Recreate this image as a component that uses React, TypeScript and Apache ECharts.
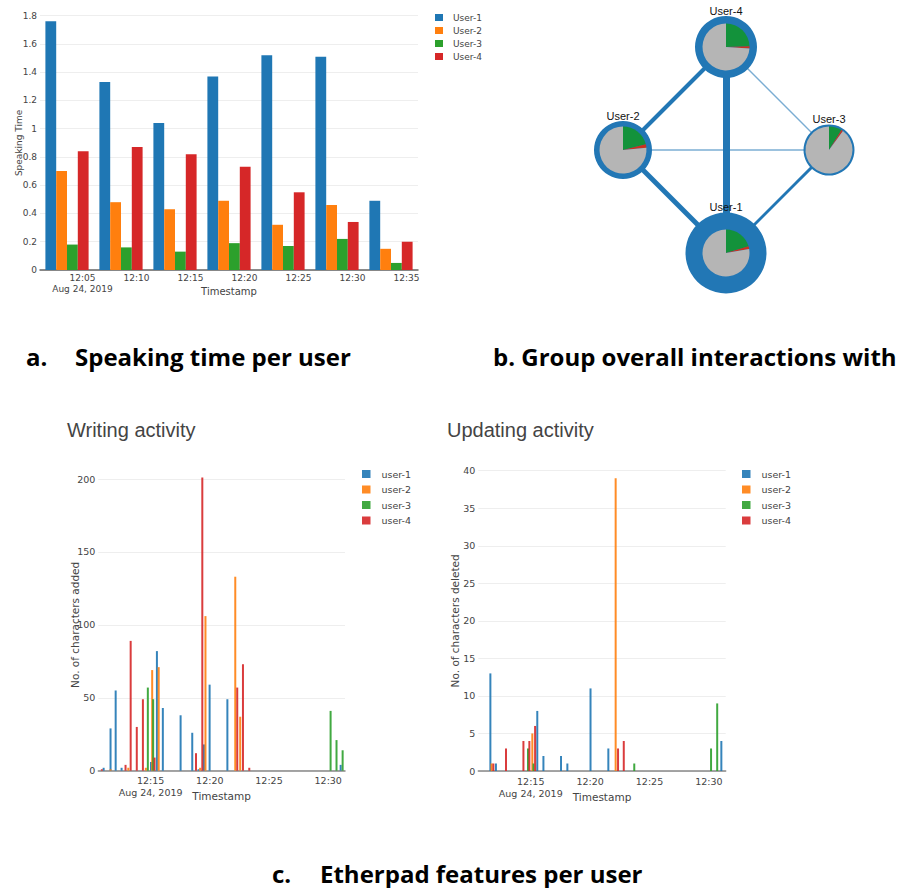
import React, { useEffect, useRef } from "react";
import * as echarts from "echarts";

const COLORS = ["#1f77b4", "#ff7f0e", "#2ca02c", "#d62728"];
const FONT = "DejaVu Sans";
const sessionDate = "Aug 24, 2019";

// ---------- a. Speaking time per user ----------
const speakingWindows = ["12:03:34", "12:08:34", "12:13:34", "12:18:34", "12:23:34", "12:28:34", "12:33:34"];
const speakingTicks = ["12:05", "12:10", "12:15", "12:20", "12:25", "12:30", "12:35"];
const speakingRange = ["12:01:04", "12:36:04"];
const speakingUsers = ["User-1", "User-2", "User-3", "User-4"];
const speakingUser1 = [1.76, 1.33, 1.04, 1.37, 1.52, 1.51, 0.49];
const speakingUser2 = [0.7, 0.48, 0.43, 0.49, 0.32, 0.46, 0.15];
const speakingUser3 = [0.18, 0.16, 0.13, 0.19, 0.17, 0.22, 0.05];
const speakingUser4 = [0.84, 0.87, 0.82, 0.73, 0.55, 0.34, 0.2];

// ---------- b. Group overall interactions ----------
const networkUsers = ["User-1", "User-2", "User-3", "User-4"];
const networkLayout = [
  [726, 253],
  [623, 150],
  [829, 150],
  [726, 47],
];
const networkNodeSize = [81, 58, 51, 62];
const networkShareGreen = [20.4, 21, 8.8, 24.5];
const networkShareRed = [1.8, 2.5, 1.3, 1.5];
const networkShareGray = [77.8, 76.5, 89.9, 74];
// [source, target, weight]
const networkLinks = [
  [3, 0, 7],
  [3, 1, 4],
  [1, 0, 5],
  [2, 0, 3],
  [1, 2, 1.6],
  [3, 2, 1.3],
];

// ---------- c. Etherpad features per user ----------
const activityUsers = ["user-1", "user-2", "user-3", "user-4"];
const activityTicks = ["12:15", "12:20", "12:25", "12:30"];
const activityRange = ["12:10:35", "12:31:25"];

const writingUser1 = [
  ["12:11:02", 2], ["12:11:37", 29], ["12:12:03", 55], ["12:12:33", 2], ["12:15:02", 6],
  ["12:15:32", 82], ["12:16:02", 43], ["12:17:32", 38], ["12:18:31", 26], ["12:19:03", 1],
  ["12:19:30", 18], ["12:19:59", 59], ["12:21:29", 49], ["12:31:03", 4],
];
const writingUser2 = [
  ["12:11:37", 1], ["12:13:07", 2], ["12:14:36", 2], ["12:15:08", 69], ["12:15:41", 71],
  ["12:19:11", 2], ["12:19:38", 106], ["12:22:09", 133], ["12:22:34", 37],
];
const writingUser3 = [
  ["12:14:46", 57], ["12:15:13", 49], ["12:30:12", 41], ["12:30:42", 21], ["12:31:13", 14],
];
const writingUser4 = [
  ["12:10:53", 1], ["12:12:53", 4], ["12:13:19", 89], ["12:13:50", 30], ["12:14:21", 49],
  ["12:15:20", 9], ["12:18:50", 12], ["12:19:22", 201], ["12:22:19", 57], ["12:22:48", 73],
  ["12:23:20", 2],
];

const updatingUser1 = [
  ["12:11:36", 13], ["12:12:04", 1], ["12:15:33", 8], ["12:16:04", 2], ["12:17:33", 2],
  ["12:18:05", 1], ["12:20:02", 11], ["12:21:32", 3], ["12:31:03", 4],
];
const updatingUser2 = [["12:11:42", 1], ["12:15:08", 5], ["12:22:09", 39]];
const updatingUser3 = [
  ["12:14:46", 3], ["12:15:14", 1], ["12:23:43", 1], ["12:30:11", 3], ["12:30:42", 9],
];
const updatingUser4 = [
  ["12:11:51", 1], ["12:12:55", 3], ["12:14:23", 4], ["12:14:53", 4], ["12:15:22", 6],
  ["12:22:21", 3], ["12:22:50", 4],
];

// ---------- helpers ----------
const toMin = (t: string) => {
  const p = t.split(":").map(Number);
  return (p[0] - 12) * 60 + p[1] + (p[2] || 0) / 60;
};
const tickFormatter = (ticks: string[]) => (v: number) => {
  const idx = ticks.findIndex((t) => Math.abs(toMin(t) - v) < 1e-6);
  if (idx < 0) return "";
  return idx === 0 ? ticks[idx] + "\n" + sessionDate : ticks[idx];
};

const axisText = { fontFamily: FONT, color: "#444" };
const EDGE = "#2277b5";

function activityX(gridIndex: number) {
  return {
    type: "value",
    gridIndex,
    position: "bottom",
    min: toMin(activityRange[0]),
    max: toMin(activityRange[1]),
    axisLine: { show: true, onZero: false, lineStyle: { color: "#888", width: 1.5 } },
    axisTick: { show: false },
    splitLine: { show: false },
    axisLabel: {
      customValues: activityTicks.map(toMin),
      formatter: tickFormatter(activityTicks),
      fontSize: 9.5,
      margin: 4,
      lineHeight: 12,
      ...axisText,
    },
    name: "Timestamp",
    nameLocation: "middle",
    nameGap: 20,
    nameMoveOverlap: false,
    nameTextStyle: { fontSize: 10.5, ...axisText },
  };
}

function activityY(gridIndex: number, max: number, interval: number, name: string) {
  return {
    type: "value",
    gridIndex,
    min: 0,
    max,
    interval,
    axisLine: { show: false },
    axisTick: { show: false },
    splitLine: { lineStyle: { color: "#eee", width: 1 } },
    axisLabel: { fontSize: 9.5, margin: 3, ...axisText },
    name,
    nameLocation: "middle",
    nameGap: 18,
    nameMoveOverlap: false,
    nameTextStyle: { fontSize: 10.5, ...axisText },
  };
}

function activityBars(xAxisIndex: number, yAxisIndex: number, sets: (string | number)[][][]) {
  return sets.map((set, i) => ({
    type: "bar",
    name: activityUsers[i],
    xAxisIndex,
    yAxisIndex,
    barWidth: 2,
    barGap: "-100%",
    clip: false,
    itemStyle: { color: COLORS[i], opacity: 0.9 },
    data: set.map(([t, v]) => [toMin(t as string), v]),
  }));
}

function caption(x: number, y: number, text: string, size: number, weight: string, family: string, color: string) {
  return {
    type: "text",
    x,
    y,
    style: {
      text,
      fontSize: size,
      fontWeight: weight,
      fontFamily: family,
      fill: color,
      verticalAlign: "middle",
      textVerticalAlign: "middle",
      align: "left",
      textAlign: "left",
    },
  };
}

function buildOption() {
  const speakingSets = [speakingUser1, speakingUser2, speakingUser3, speakingUser4];

  const pies = networkUsers.map((u, i) => ({
    type: "pie",
    center: networkLayout[i],
    radius: 23.5,
    startAngle: 90,
    clockwise: true,
    silent: true,
    z: 4,
    label: { show: false },
    labelLine: { show: false },
    itemStyle: { borderWidth: 0 },
    data: [
      { name: u + " typing", value: networkShareGreen[i], itemStyle: { color: "#13923b" } },
      { name: u + " deleting", value: networkShareRed[i], itemStyle: { color: "#c9321f" } },
      { name: u + " idle", value: networkShareGray[i], itemStyle: { color: "#b5b5b5" } },
    ],
  }));

  const legendBase = {
    orient: "vertical",
    icon: "rect",
    padding: 0,
    selectedMode: false,
  };

  return {
    animation: false,
    backgroundColor: "#fff",
    textStyle: { fontFamily: FONT },
    grid: [
      { left: 40, top: 15.7, width: 378, height: 254.3 },
      { left: 0, top: 0, width: 919, height: 888 },
      { left: 98.3, top: 479, width: 246.7, height: 291.7 },
      { left: 478.3, top: 470.7, width: 247.4, height: 300.3 },
    ],
    xAxis: [
      {
        type: "category",
        gridIndex: 0,
        data: speakingWindows,
        boundaryGap: true,
        axisLine: { show: true, lineStyle: { color: "#666", width: 1.5 } },
        axisTick: { show: false },
        axisLabel: { show: false },
      },
      {
        type: "value",
        gridIndex: 0,
        position: "bottom",
        min: toMin(speakingRange[0]),
        max: toMin(speakingRange[1]),
        axisLine: { show: false },
        axisTick: { show: false },
        splitLine: { show: false },
        axisLabel: {
          customValues: speakingTicks.map(toMin),
          formatter: tickFormatter(speakingTicks),
          fontSize: 9,
          margin: 3,
          lineHeight: 10.5,
          ...axisText,
        },
        name: "Timestamp",
        nameLocation: "middle",
        nameGap: 16,
        nameMoveOverlap: false,
        nameTextStyle: { fontSize: 10, ...axisText },
      },
      { type: "value", gridIndex: 1, min: 0, max: 919, show: false },
      activityX(2),
      activityX(3),
    ],
    yAxis: [
      {
        type: "value",
        gridIndex: 0,
        min: 0,
        max: 1.8,
        interval: 0.2,
        axisLine: { show: false },
        axisTick: { show: false },
        splitLine: { lineStyle: { color: "#eee" } },
        axisLabel: { fontSize: 9, margin: 3, ...axisText },
        name: "Speaking Time",
        nameLocation: "middle",
        nameGap: 17,
        nameMoveOverlap: false,
        nameTextStyle: { fontSize: 9, ...axisText },
      },
      { type: "value", gridIndex: 1, min: 0, max: 888, inverse: true, show: false },
      activityY(2, 200, 50, "No. of characters added"),
      activityY(3, 40, 5, "No. of characters deleted"),
    ],
    legend: [
      {
        ...legendBase,
        data: speakingUsers,
        left: 435,
        top: 13,
        itemWidth: 8,
        itemHeight: 7,
        itemGap: 4,
        textStyle: { fontSize: 9, padding: [0, 0, 0, 5], ...axisText },
      },
      {
        ...legendBase,
        data: activityUsers,
        left: 362,
        top: 469,
        itemWidth: 8.5,
        itemHeight: 8,
        itemGap: 5.5,
        textStyle: { fontSize: 9.5, padding: [0, 0, 0, 6], ...axisText },
      },
      {
        ...legendBase,
        data: activityUsers,
        left: 742,
        top: 469,
        itemWidth: 8.5,
        itemHeight: 8,
        itemGap: 5.5,
        textStyle: { fontSize: 9.5, padding: [0, 0, 0, 6], ...axisText },
      },
    ],
    series: [
      ...speakingSets.map((d, i) => ({
        type: "bar",
        name: speakingUsers[i],
        xAxisIndex: 0,
        yAxisIndex: 0,
        barGap: "0%",
        barCategoryGap: "20%",
        itemStyle: { color: COLORS[i] },
        data: d,
      })),
      {
        type: "graph",
        coordinateSystem: "cartesian2d",
        xAxisIndex: 2,
        yAxisIndex: 1,
        layout: "none",
        symbol: "circle",
        silent: true,
        z: 3,
        itemStyle: { color: EDGE },
        lineStyle: { color: EDGE, curveness: 0, opacity: 1 },
        label: {
          show: true,
          position: "top",
          distance: 0,
          fontSize: 11,
          color: "#111",
          fontFamily: "Liberation Sans",
          formatter: "{b}",
        },
        data: networkUsers.map((n, i) => ({
          name: n,
          value: networkLayout[i],
          symbolSize: networkNodeSize[i],
        })),
        links: networkLinks.map(([s, t, w]) => ({
          source: s,
          target: t,
          lineStyle: { color: EDGE, width: w, opacity: w < 2 ? 0.6 : 1 },
        })),
      },
      ...pies,
      ...activityBars(3, 2, [writingUser1, writingUser2, writingUser3, writingUser4]),
      ...activityBars(4, 3, [updatingUser1, updatingUser2, updatingUser3, updatingUser4]),
    ],
    graphic: [
      caption(26, 356, "a.", 24, "bold", "Open Sans", "#000"),
      caption(75, 356, "Speaking time per user", 24, "bold", "Open Sans", "#000"),
      caption(493, 356, "b. Group overall interactions with", 24, "bold", "Open Sans", "#000"),
      caption(272, 873, "c.", 24, "bold", "Open Sans", "#000"),
      caption(320, 873, "Etherpad features per user", 24, "bold", "Open Sans", "#000"),
      caption(67, 430, "Writing activity", 20, "normal", "Liberation Sans", "#444"),
      caption(447, 430, "Updating activity", 20, "normal", "Liberation Sans", "#444"),
    ],
  };
}

export default function App() {
  const ref = useRef<HTMLDivElement>(null);
  useEffect(() => {
    if (!ref.current) return;
    const chart = echarts.init(ref.current, null, { renderer: "svg" });
    chart.setOption(buildOption() as any);
    return () => chart.dispose();
  }, []);
  return (
    <div
      ref={ref}
      style={{ position: "absolute", left: 0, top: 0, width: 919, height: 888, background: "#fff" }}
    />
  );
}
